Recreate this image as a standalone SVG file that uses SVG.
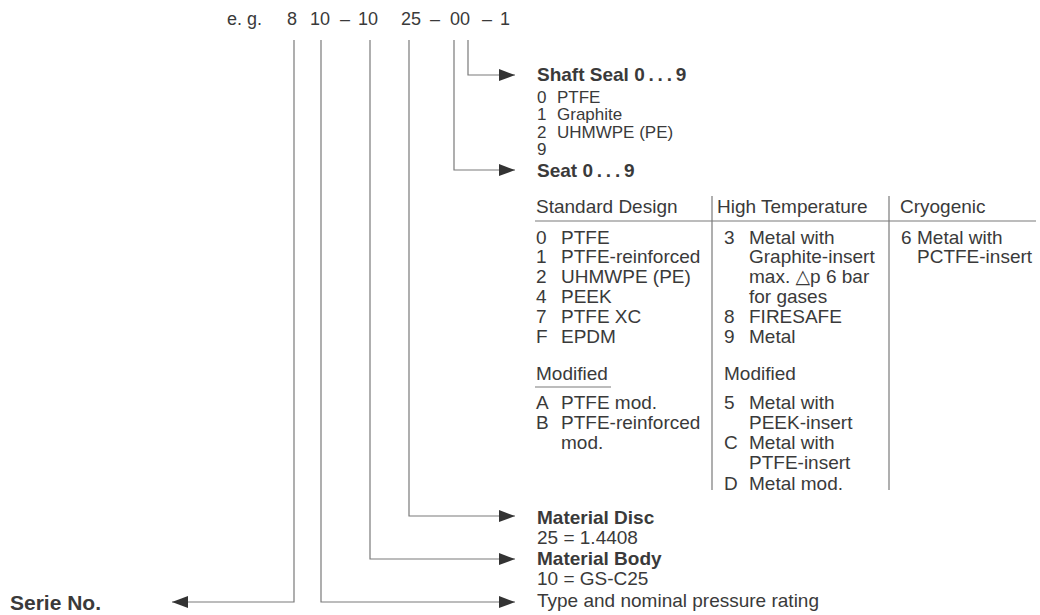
<svg xmlns="http://www.w3.org/2000/svg" width="1040" height="615" viewBox="0 0 1040 615">
<defs>
<marker id="ah" markerWidth="16" markerHeight="12" refX="16" refY="6" orient="auto" markerUnits="userSpaceOnUse">
<path d="M0,0 L16,6 L0,12 Z" fill="#333"/>
</marker>
<style>
text{font-family:"Liberation Sans",Arial,sans-serif;fill:#3a3a3a;font-size:19px}
.b{font-weight:bold}
.code{font-size:18px}
.sm{font-size:17px}
.big{font-size:21px;font-weight:bold}
.ln{fill:none;stroke:#7a7a7a;stroke-width:1.2}
.rule{stroke:#7a7a7a;stroke-width:1.2}
.tri{font-family:"DejaVu Sans","Liberation Sans",sans-serif}
</style>
</defs>
<rect width="1040" height="615" fill="#fff"/>

<g id="code">
<text class="code" x="262" y="25" text-anchor="end">e. g.</text>
<text class="code" x="292" y="25" text-anchor="middle">8</text>
<text class="code" x="320" y="25" text-anchor="middle">10</text>
<text class="code" x="345" y="25" text-anchor="middle">–</text>
<text class="code" x="368" y="25" text-anchor="middle">10</text>
<text class="code" x="411" y="25" text-anchor="middle">25</text>
<text class="code" x="435" y="25" text-anchor="middle">–</text>
<text class="code" x="460" y="25" text-anchor="middle">00</text>
<text class="code" x="487" y="25" text-anchor="middle">–</text>
<text class="code" x="505" y="25" text-anchor="middle">1</text>
</g>

<g id="connectors">
<path class="ln" d="M468,40 V75 H515" marker-end="url(#ah)"/>
<path class="ln" d="M454,40 V170 H515" marker-end="url(#ah)"/>
<path class="ln" d="M409,40 V516 H515" marker-end="url(#ah)"/>
<path class="ln" d="M370,40 V559 H515" marker-end="url(#ah)"/>
<path class="ln" d="M321,40 V602 H515" marker-end="url(#ah)"/>
<path class="ln" d="M294,40 V602 H172" marker-end="url(#ah)"/>
</g>

<g id="shaft-seal">
<text class="b" x="537" y="81">Shaft Seal 0&#8201;.&#8201;.&#8201;.&#8201;9</text>
<text class="sm" x="537" y="102.5">0</text><text class="sm" x="557" y="102.5">PTFE</text>
<text class="sm" x="537" y="120">1</text><text class="sm" x="557" y="120">Graphite</text>
<text class="sm" x="537" y="137.5">2</text><text class="sm" x="557" y="137.5">UHMWPE (PE)</text>
<text class="sm" x="537" y="155">9</text>
</g>

<g id="seat">
<text class="b" x="537" y="177">Seat 0&#8201;.&#8201;.&#8201;.&#8201;9</text>
<text x="536" y="212.5">Standard Design</text>
<text x="717" y="212.5">High Temperature</text>
<text x="900" y="212.5">Cryogenic</text>
<line class="rule" x1="535" y1="221" x2="1036" y2="221"/>
<line class="rule" x1="712" y1="196" x2="712" y2="490"/>
<line class="rule" x1="889" y1="196" x2="889" y2="490"/>

<text x="536" y="243.5">0</text><text x="561" y="243.5">PTFE</text>
<text x="536" y="263.3">1</text><text x="561" y="263.3">PTFE-reinforced</text>
<text x="536" y="283.1">2</text><text x="561" y="283.1">UHMWPE (PE)</text>
<text x="536" y="302.9">4</text><text x="561" y="302.9">PEEK</text>
<text x="536" y="322.7">7</text><text x="561" y="322.7">PTFE XC</text>
<text x="536" y="342.5">F</text><text x="561" y="342.5">EPDM</text>
<text x="536" y="379.5">Modified</text>
<line class="rule" x1="535" y1="387" x2="611" y2="387"/>
<text x="536" y="408.5">A</text><text x="561" y="408.5">PTFE mod.</text>
<text x="536" y="428.8">B</text><text x="561" y="428.8">PTFE-reinforced</text>
<text x="561" y="449">mod.</text>

<text x="724" y="243.5">3</text><text x="749" y="243.5">Metal with</text>
<text x="749" y="263.3">Graphite-insert</text>
<text x="749" y="283.1">max. <tspan class="tri">△</tspan>p 6 bar</text>
<text x="749" y="302.9">for gases</text>
<text x="724" y="322.7">8</text><text x="749" y="322.7">FIRESAFE</text>
<text x="724" y="342.5">9</text><text x="749" y="342.5">Metal</text>
<text x="724" y="379.5">Modified</text>
<text x="724" y="408.5">5</text><text x="749" y="408.5">Metal with</text>
<text x="749" y="428.8">PEEK-insert</text>
<text x="724" y="449">C</text><text x="749" y="449">Metal with</text>
<text x="749" y="469.2">PTFE-insert</text>
<text x="724" y="489.5">D</text><text x="749" y="489.5">Metal mod.</text>

<text x="901" y="243.5">6</text><text x="917" y="243.5">Metal with</text>
<text x="917" y="263.3">PCTFE-insert</text>
</g>

<g id="material-disc">
<text class="b" x="537" y="523.5">Material Disc</text>
<text x="537" y="543.5">25 = 1.4408</text>
</g>
<g id="material-body">
<text class="b" x="537" y="564.5">Material Body</text>
<text x="537" y="584.5">10 = GS-C25</text>
</g>
<g id="type">
<text x="537" y="606.5">Type and nominal pressure rating</text>
</g>
<g id="serie">
<text class="big" x="10" y="610">Serie No.</text>
</g>
</svg>
